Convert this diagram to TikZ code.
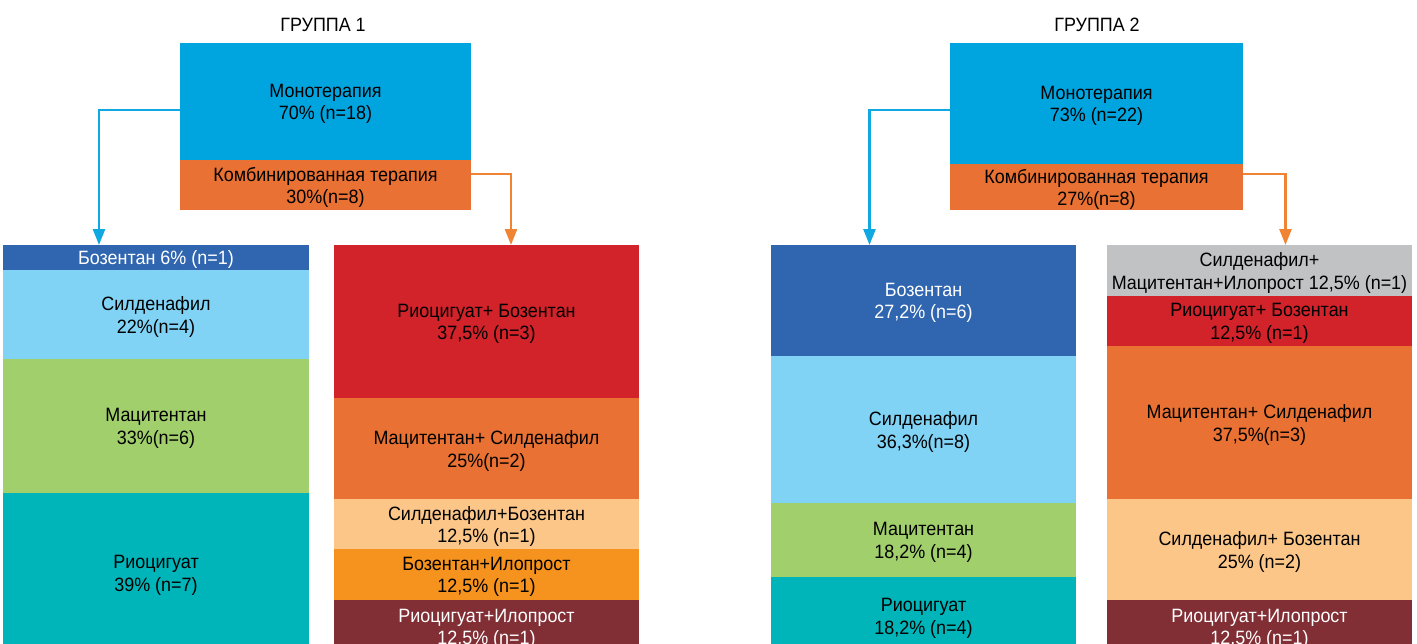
\documentclass[tikz,border=0pt]{standalone}
\usepackage{fontspec}
\setmainfont[FakeStretch=0.93]{Liberation Sans}
\usetikzlibrary{arrows.meta}
\definecolor{monoblue}{RGB}{0,165,224}
\definecolor{comboorange}{RGB}{232,113,51}
\definecolor{darkblue}{RGB}{48,102,176}
\definecolor{lightblue}{RGB}{129,211,246}
\definecolor{leafgreen}{RGB}{160,207,108}
\definecolor{tealc}{RGB}{0,181,185}
\definecolor{redc}{RGB}{210,34,42}
\definecolor{lightorange}{RGB}{251,198,136}
\definecolor{brightorange}{RGB}{246,146,30}
\definecolor{maroon}{RGB}{129,47,53}
\definecolor{grayc}{RGB}{193,194,196}
\definecolor{arrowblue}{RGB}{15,168,224}
\definecolor{arroworange}{RGB}{238,132,52}
\begin{document}
\begin{tikzpicture}[x=1pt,y=-1pt,
  seg/.style={rectangle, inner sep=0pt, outer sep=0pt, anchor=north west},
  lab/.style={inner sep=0pt, align=center, text=black, yshift=-2.5pt,
    font=\fontsize{19.3}{22.5}\selectfont},
  wlab/.style={lab, text=white},
  title/.style={inner sep=0pt, font=\fontsize{19.3}{22.5}\selectfont},
  arr/.style={line width=2.6pt, -{Triangle[width=12pt,length=16pt]}},
]
\useasboundingbox (0,0) rectangle (1417,643);
\clip (0,0) rectangle (1417,643);

% titles
\node[title] (t1) at (323,25) {ГРУППА 1};
\node[title] (t2) at (1097,25) {ГРУППА 2};

% group 1 top
\node[seg, fill=monoblue, minimum width=291pt, minimum height=117pt,
  label={[lab]center:{Монотерапия\\70\% (n=18)}}] (mono1) at (180,43) {};
\node[seg, fill=comboorange, minimum width=291pt, minimum height=50pt,
  label={[lab]center:{Комбинированная терапия\\30\%(n=8)}}] (combo1) at (180,160) {};

% group 2 top
\node[seg, fill=monoblue, minimum width=293pt, minimum height=121pt,
  label={[lab]center:{Монотерапия\\73\% (n=22)}}] (mono2) at (950,43) {};
\node[seg, fill=comboorange, minimum width=293pt, minimum height=46pt,
  label={[lab]center:{Комбинированная терапия\\27\%(n=8)}}] (combo2) at (950,164) {};

% group 1 left column
\node[seg, fill=darkblue, minimum width=306pt, minimum height=25pt,
  label={[wlab]center:{Бозентан 6\% (n=1)}}] (a1) at (3,245) {};
\node[seg, fill=lightblue, minimum width=306pt, minimum height=89pt,
  label={[lab]center:{Силденафил\\22\%(n=4)}}] (a2) at (3,270) {};
\node[seg, fill=leafgreen, minimum width=306pt, minimum height=134pt,
  label={[lab]center:{Мацитентан\\33\%(n=6)}}] (a3) at (3,359) {};
\node[seg, fill=tealc, minimum width=306pt, minimum height=160pt,
  label={[lab]center:{Риоцигуат\\39\% (n=7)}}] (a4) at (3,493) {};

% group 1 right column
\node[seg, fill=redc, minimum width=305pt, minimum height=153pt,
  label={[lab]center:{Риоцигуат+ Бозентан\\37,5\% (n=3)}}] (b1) at (334,245) {};
\node[seg, fill=comboorange, minimum width=305pt, minimum height=101pt,
  label={[lab]center:{Мацитентан+ Силденафил\\25\%(n=2)}}] (b2) at (334,398) {};
\node[seg, fill=lightorange, minimum width=305pt, minimum height=50pt,
  label={[lab]center:{Силденафил+Бозентан\\12,5\% (n=1)}}] (b3) at (334,499) {};
\node[seg, fill=brightorange, minimum width=305pt, minimum height=51pt,
  label={[lab]center:{Бозентан+Илопрост\\12,5\% (n=1)}}] (b4) at (334,549) {};
\node[seg, fill=maroon, minimum width=305pt, minimum height=53pt,
  label={[wlab]center:{Риоцигуат+Илопрост\\12,5\% (n=1)}}] (b5) at (334,600) {};

% group 2 left column
\node[seg, fill=darkblue, minimum width=305pt, minimum height=111pt,
  label={[wlab]center:{Бозентан\\27,2\% (n=6)}}] (c1) at (771,245) {};
\node[seg, fill=lightblue, minimum width=305pt, minimum height=147pt,
  label={[lab]center:{Силденафил\\36,3\%(n=8)}}] (c2) at (771,356) {};
\node[seg, fill=leafgreen, minimum width=305pt, minimum height=74pt,
  label={[lab]center:{Мацитентан\\18,2\% (n=4)}}] (c3) at (771,503) {};
\node[seg, fill=tealc, minimum width=305pt, minimum height=78pt,
  label={[lab]center:{Риоцигуат\\18,2\% (n=4)}}] (c4) at (771,577) {};

% group 2 right column
\node[seg, fill=grayc, minimum width=305pt, minimum height=51pt,
  label={[lab]center:{Силденафил+\\Мацитентан+Илопрост 12,5\% (n=1)}}] (d1) at (1107,245) {};
\node[seg, fill=redc, minimum width=305pt, minimum height=50pt,
  label={[lab]center:{Риоцигуат+ Бозентан\\12,5\% (n=1)}}] (d2) at (1107,296) {};
\node[seg, fill=comboorange, minimum width=305pt, minimum height=153pt,
  label={[lab]center:{Мацитентан+ Силденафил\\37,5\%(n=3)}}] (d3) at (1107,346) {};
\node[seg, fill=lightorange, minimum width=305pt, minimum height=101pt,
  label={[lab]center:{Силденафил+ Бозентан\\25\% (n=2)}}] (d4) at (1107,499) {};
\node[seg, fill=maroon, minimum width=305pt, minimum height=53pt,
  label={[wlab]center:{Риоцигуат+Илопрост\\12,5\% (n=1)}}] (d5) at (1107,600) {};

% arrows
\draw[arr, arrowblue] ([yshift=-8.5pt]mono1.west) -| ([xshift=-57pt]a1.north);
\draw[arr, arroworange] ([yshift=11pt]combo1.east) -| ([xshift=24.5pt]b1.north);
\draw[arr, arrowblue] ([yshift=-6.5pt]mono2.west) -| ([xshift=-54pt]c1.north);
\draw[arr, arroworange] ([yshift=13pt]combo2.east) -| ([xshift=26pt]d1.north);
\end{tikzpicture}
\end{document}
